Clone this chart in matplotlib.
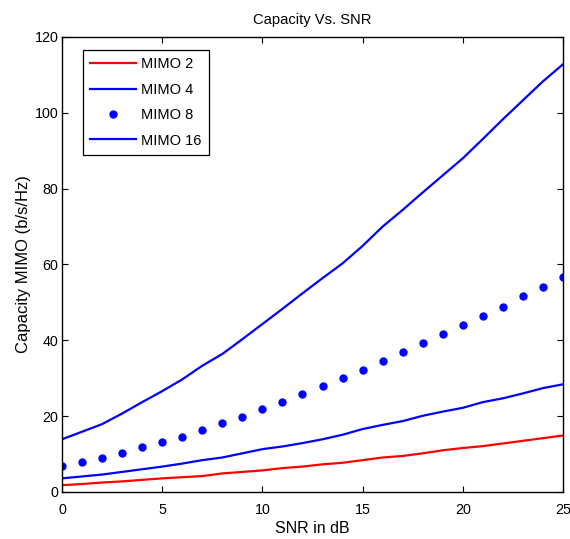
import matplotlib
matplotlib.use("Agg")
import matplotlib.pyplot as plt

plt.rcParams['font.family'] = ['Liberation Sans', 'DejaVu Sans']
plt.rcParams['font.size'] = 10

# SNR in dB
snr = list(range(0, 26))

# capacity values (b/s/Hz)
mimo2 = [1.8, 2.1, 2.5, 2.8, 3.2, 3.6, 3.9, 4.2, 4.9, 5.3, 5.7, 6.3, 6.7,
         7.3, 7.7, 8.4, 9.1, 9.5, 10.2, 11.0, 11.6, 12.1, 12.8, 13.5, 14.2, 14.9]
mimo4 = [3.6, 4.1, 4.6, 5.3, 6.0, 6.7, 7.5, 8.4, 9.1, 10.2, 11.3, 12.0, 12.9,
         13.9, 15.1, 16.6, 17.7, 18.7, 20.1, 21.2, 22.2, 23.7, 24.7, 26.0, 27.4, 28.4]
mimo8 = [6.9, 7.9, 9.0, 10.4, 11.8, 13.2, 14.6, 16.4, 18.1, 19.9, 22.0, 23.8, 25.9,
         28.0, 30.1, 32.2, 34.6, 36.8, 39.2, 41.7, 44.1, 46.3, 48.7, 51.7, 54.1, 56.7]
mimo16 = [13.9, 15.9, 17.9, 20.7, 23.7, 26.6, 29.7, 33.3, 36.4, 40.3, 44.3, 48.3, 52.4,
          56.4, 60.3, 64.9, 70.0, 74.4, 79.0, 83.5, 88.0, 93.1, 98.3, 103.3, 108.3, 112.8]

fig = plt.figure(figsize=(5.7, 5.39), dpi=100)
ax = fig.add_axes([0.1088, 0.0872, 0.8789, 0.8442])

ax.plot(snr, mimo2, color='red', lw=1.6, label='MIMO 2')
ax.plot(snr, mimo4, color='blue', lw=1.6, label='MIMO 4')
ax.plot(snr, mimo8, color='blue', ls='none', marker='o', ms=5, label='MIMO 8')
ax.plot(snr, mimo16, color='blue', lw=1.6, label='MIMO 16')

ax.set_xlim(0, 25)
ax.set_ylim(0, 120)
ax.set_xticks([0, 5, 10, 15, 20, 25])
ax.set_yticks([0, 20, 40, 60, 80, 100, 120])
ax.tick_params(direction='in', top=True, right=True, length=4, width=0.8, labelsize=10.3)
ax.tick_params(axis='x', pad=8)
ax.tick_params(axis='y', pad=2.5)
for s in ax.spines.values():
    s.set_linewidth(1.0)

ax.set_xlabel('SNR in dB', labelpad=3, fontsize=11.5)
ax.set_ylabel('Capacity MIMO (b/s/Hz)', labelpad=3, fontsize=12)
ax.set_title('Capacity Vs. SNR', pad=9, fontsize=10.6)

leg = ax.legend(loc='upper left', bbox_to_anchor=(0.042, 0.971), fancybox=False,
                edgecolor='black', framealpha=1, handlelength=3.1, handletextpad=0.4,
                borderpad=0.5, labelspacing=0.78, borderaxespad=0, fontsize=10.5)
leg.get_frame().set_linewidth(0.9)

fig.savefig('out.png', dpi=100)
